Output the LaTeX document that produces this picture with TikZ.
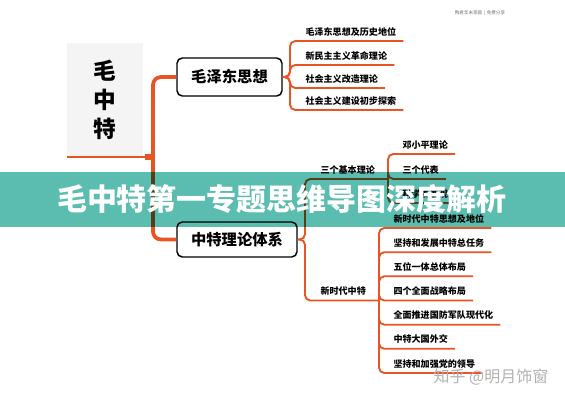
\documentclass[tikz,border=0pt]{standalone}
\usepackage{fontspec}
\setmainfont{Noto Sans CJK SC}
\definecolor{mmorange}{RGB}{232,84,38}
\definecolor{mmteal}{RGB}{90,189,175}
\definecolor{mmgray}{RGB}{244,244,244}
\tikzset{every picture/.style={line width=0.75pt}}
\tikzset{
  trunk/.style={draw=mmorange, line width=2.8pt, rounded corners=6pt},
  twig/.style={draw=mmorange, line width=1.4pt, rounded corners=4pt},
  topic/.style={draw=black, line width=1.1pt, rounded corners=4pt, fill=white, inner sep=0pt, font=\fontsize{11.5}{13}\selectfont\bfseries},
  leaf/.style={anchor=south west, inner xsep=0pt, inner ysep=3pt, text height=6pt, text depth=1pt, font=\fontsize{6.8}{8}\selectfont\bfseries},
}

\begin{document}
\begin{tikzpicture}[x=0.75pt,y=0.75pt,yscale=-1,xscale=1]
\useasboundingbox (0,0) rectangle (565,400);
\fill[white] (0,0) rectangle (565,400);

%Shape: Rectangle [id:root]
\node[fill=mmgray, minimum width=57pt, minimum height=85.5pt, inner sep=0pt, outer sep=0pt, align=center, font=\fontsize{17}{22}\selectfont\bfseries] (root) at (105,100) {毛\\中\\特};
\coordinate (jroot) at (153,157);

% Topic Nodes
\node[topic, minimum width=78.75pt, minimum height=28.5pt] (mzd) at (229.5,77) {毛泽东思想};
\node[topic, minimum width=90pt, minimum height=26.25pt] (zt) at (237,239.5) {中特理论体系};

%Straight Lines [id:trunk]
\draw[trunk] (mzd.west) -| (jroot) |- (zt.west);
\draw[mmorange, line width=1.8pt] (root.south west) -- (jroot);
\fill[mmorange] ([xshift=-6pt,yshift=2.4pt]jroot) rectangle ([xshift=0.5pt,yshift=-2.4pt]jroot);

% Text Node
\node[leaf] (m1) at (305,41) {毛泽东思想及历史地位};
\node[leaf] (m2) at (305,65) {新民主主义革命理论};
\node[leaf] (m3) at (305,88) {社会主义改造理论};
\node[leaf] (m4) at (305,110) {社会主义建设初步探索};
\coordinate (jm) at (290,77);
\foreach \i in {1,...,4}
  \draw[twig] (mzd.east) -- (jm) |- ([xshift=5pt]m\i.south east);

% Text Node
\node[leaf] (sb) at (320,179) {三个基本理论};
\node[leaf] (xs) at (320,300.5) {新时代中特};
\coordinate (jz) at (305,239.5);
\coordinate (js) at (388,179);
\coordinate (jx) at (379,300.5);
\draw[twig] (zt.east) -- (jz) |- (sb.south west) -- (js);
\draw[twig] (zt.east) -- (jz) |- (xs.south west) -- (jx);

% Text Node
\node[leaf] (s1) at (402,154) {邓小平理论};
\node[leaf] (s2) at (402,179) {三个代表};
\node[leaf] (s3) at (402,203) {科学发展观};
\foreach \i in {1,2,3}
  \draw[twig] (js) |- ([xshift=5pt]s\i.south east);

% Text Node
\node[leaf] (x1) at (393,228) {新时代中特思想及地位};
\node[leaf] (x2) at (393,252.2) {坚持和发展中特总任务};
\node[leaf] (x3) at (393,276.3) {五位一体总体布局};
\node[leaf] (x4) at (393,300.5) {四个全面战略布局};
\node[leaf] (x5) at (393,324.7) {全面推进国防军队现代化};
\node[leaf] (x6) at (393,348.8) {中特大国外交};
\node[leaf] (x7) at (393,373) {坚持和加强党的领导};
\foreach \i in {1,...,7}
  \draw[twig] (jx) |- ([xshift=5pt]x\i.south east);

%Shape: Banner
\begin{scope}[blend mode=multiply]
\fill[mmteal] (0,172) rectangle (565,227);
\end{scope}
\node[text=white, inner sep=0pt, font=\fontsize{22.5}{26}\selectfont\bfseries] (title) at (282,199) {毛中特第一专题思维导图深度解析};

% Text Node
\node[text=black!55, inner sep=0pt, font=\fontsize{3.4}{4}\selectfont] (hd) at (480,13) {陶君年末享圆 \,|\, 免费分享};
\node[text=black!30, inner sep=0pt, font=\fontsize{12}{14}\selectfont] (wm) at (491,377) {知乎 @明月饰窗};

\end{tikzpicture}
\end{document}
